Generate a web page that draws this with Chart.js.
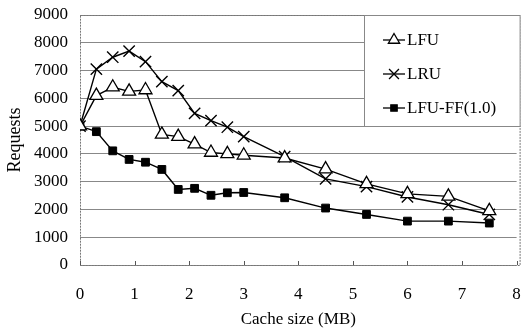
<!DOCTYPE html>
<html lang="en">

<head>
    <meta charset="UTF-8">
    <script src="https://cdn.jsdelivr.net/npm/chart.js"></script>
    <title>Requests vs cache size</title>
    <style>
        body { margin: 0; background: #fff; }
    </style>
</head>

<body>
    <div style="width:526px;height:330px">
        <canvas id="myChart" width="526" height="330"></canvas>
    </div>
    <script>

        const cacheSizes = [0, 0.3, 0.6, 0.9, 1.2, 1.5, 1.8, 2.1, 2.4, 2.7, 3.0, 3.75, 4.5, 5.25, 6.0, 6.75, 7.5];

        const lfu = [5000, 6100, 6400, 6250, 6300, 4700, 4620, 4350, 4050, 4000, 3950, 3850, 3450, 2920, 2560, 2470, 1950];
        const lru = [5000, 7050, 7480, 7700, 7320, 6600, 6280, 5460, 5200, 4960, 4620, 3900, 3100, 2820, 2450, 2170, 1820];
        const lfuFF = [5000, 4800, 4110, 3800, 3700, 3440, 2720, 2760, 2510, 2600, 2610, 2420, 2050, 1820, 1580, 1580, 1510];

        const yTicks = [0, 1000, 2000, 3000, 4000, 5000, 6000, 7000, 8000, 9000];
        const xTicks = [0, 1, 2, 3, 4, 5, 6, 7, 8];

        const serif = "'Liberation Serif', 'DejaVu Serif', serif";

        function pts(ys) {
            return cacheSizes.map((x, i) => ({ x: x, y: ys[i] }));
        }

        const data1 = {
            datasets: [{
                label: 'LFU',
                data: pts(lfu),
                borderColor: '#000',
                backgroundColor: '#fff',
                pointStyle: 'triangle',
                pointRadius: 7.5,
                pointBorderWidth: 1.3,
            },
            {
                label: 'LRU',
                data: pts(lru),
                borderColor: '#000',
                backgroundColor: '#000',
                pointStyle: 'crossRot',
                pointRadius: 8,
                pointBorderWidth: 1.4,
            },
            {
                label: 'LFU-FF(1.0)',
                data: pts(lfuFF),
                borderColor: '#000',
                backgroundColor: '#000',
                pointStyle: 'rect',
                pointRadius: 5.5,
                pointBorderWidth: 1,
            }
            ]
        };

        // legend box drawn inside the plot, top right
        const boxLegend = {
            id: 'box_legend',
            afterDatasetsDraw: (chart) => {
                const ctx = chart.ctx;
                const area = chart.chartArea;
                const left = 364, top = area.top, right = area.right + 4, bottom = 126;
                ctx.save();
                ctx.fillStyle = '#fff';
                ctx.fillRect(left, top, right - left, bottom - top);
                ctx.strokeStyle = '#888';
                ctx.lineWidth = 1;
                ctx.strokeRect(left + 0.5, top + 0.5, right - left - 1, bottom - top);
                ctx.font = '17px ' + serif;
                ctx.textBaseline = 'middle';
                chart.data.datasets.forEach((ds, i) => {
                    const y = top + 25 + i * 34;
                    ctx.strokeStyle = '#000';
                    ctx.lineWidth = 1.3;
                    ctx.beginPath();
                    ctx.moveTo(383, y);
                    ctx.lineTo(405, y);
                    ctx.stroke();
                    ctx.fillStyle = ds.backgroundColor;
                    Chart.helpers.drawPoint(ctx, {
                        pointStyle: ds.pointStyle,
                        radius: ds.pointRadius - 1,
                        borderWidth: ds.pointBorderWidth
                    }, 394, y);
                    ctx.fillStyle = '#000';
                    ctx.fillText(ds.label, 407, y + 1);
                });
                ctx.restore();
            }
        };

        // small inward tick marks on the x axis, and the plot frame
        const frame = {
            id: 'frame',
            beforeDatasetsDraw: (chart) => {
                const ctx = chart.ctx;
                const a = chart.chartArea;
                const xs = chart.scales.x;
                ctx.save();
                ctx.strokeStyle = '#888';
                ctx.lineWidth = 1;
                ctx.beginPath();
                ctx.moveTo(a.right, a.top + 0.5);
                ctx.lineTo(a.right + 3, a.top + 0.5);
                ctx.stroke();
                ctx.strokeStyle = '#777';
                ctx.setLineDash([2, 1]);
                ctx.strokeRect(a.left + 0.5, a.top + 0.5, a.right - a.left + 3, a.bottom - a.top);
                ctx.setLineDash([]);
                ctx.strokeStyle = '#555';
                xTicks.forEach(v => {
                    const px = Math.round(xs.getPixelForValue(v)) + 0.5;
                    ctx.beginPath();
                    ctx.moveTo(px, a.bottom);
                    ctx.lineTo(px, a.bottom - 4);
                    ctx.stroke();
                });
                ctx.restore();
            }
        };

        const config = {
            type: 'line',
            data: data1,
            options: {
                responsive: false,
                animation: false,
                layout: { padding: { left: 0, right: 2, top: 15, bottom: 0 } },
                elements: {
                    line: { borderWidth: 1.4, tension: 0 }
                },
                scales: {
                    x: {
                        type: 'linear',
                        min: 0,
                        max: 8,
                        afterBuildTicks: (s) => { s.ticks = xTicks.map(v => ({ value: v })); },
                        afterFit: (s) => { s.height = 65; s.paddingLeft = 0; s.paddingRight = 0; },
                        grid: { display: false },
                        border: { display: false },
                        ticks: { color: '#000', padding: 11, font: { family: serif, size: 17 } },
                        title: {
                            display: true,
                            text: 'Cache size (MB)',
                            color: '#000',
                            padding: { top: 2, bottom: 0 },
                            font: { family: serif, size: 17 }
                        }
                    },
                    y: {
                        min: 0,
                        max: 9000,
                        afterBuildTicks: (s) => { s.ticks = yTicks.map(v => ({ value: v })); },
                        afterFit: (s) => { s.width = 80; s.paddingTop = 0; s.paddingBottom = 0; },
                        grid: { color: '#888', drawTicks: false },
                        border: { display: false },
                        ticks: {
                            color: '#000',
                            padding: 12,
                            font: { family: serif, size: 17 },
                            callback: (v) => String(v)
                        },
                        title: {
                            display: true,
                            text: 'Requests',
                            color: '#000',
                            padding: { bottom: 0 },
                            font: { family: serif, size: 18 }
                        }
                    }
                },
                plugins: {
                    legend: { display: false },
                    tooltip: { enabled: false }
                }
            },
            plugins: [frame, boxLegend]
        };

        const myChart = new Chart(
            document.getElementById('myChart'),
            config
        );
    </script>
</body>

</html>
